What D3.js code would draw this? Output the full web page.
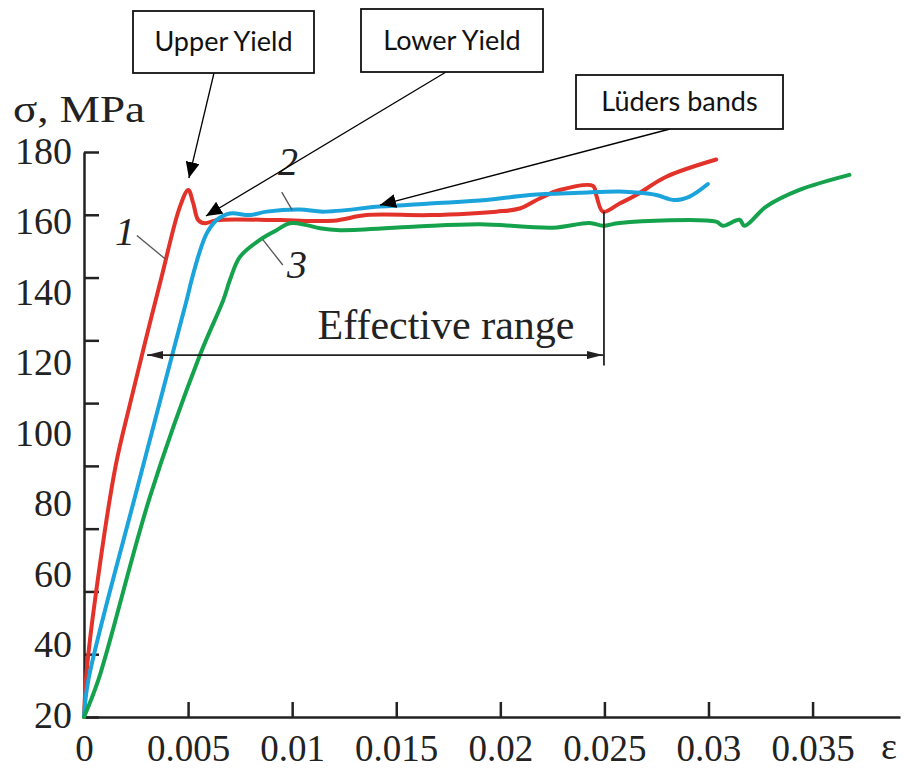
<!DOCTYPE html>
<html>
<head>
<meta charset="utf-8">
<script src="https://cdn.jsdelivr.net/npm/d3@7/dist/d3.min.js"></script>
<style>
	body{margin:0;background:#fff;}
	.serif{font-family:"Liberation Serif","Times New Roman",serif;fill:#222;}
	.box-text{font-family:Lato,"Open Sans",sans-serif;fill:#111;}
</style>
</head>
<body>
<div id="c-svg"></div>
<script>

//data : strain (epsilon) and stress (MPa)
const curveNames = ["1", "2", "3"];

const strain1 = [0, 0.00012, 0.00053, 0.00152, 0.00222, 0.00296, 0.00372, 0.00461, 0.00501, 0.00525, 0.00549, 0.00581, 0.00637, 0.00941, 0.01197, 0.01357, 0.01661, 0.01981, 0.02093, 0.02189, 0.02285, 0.02445, 0.02462, 0.02493, 0.02573, 0.02653, 0.02797, 0.03037];
const stress1 = [0, 14, 37.3, 80, 100, 120, 140, 162.6, 167.9, 163.6, 158.3, 157.3, 158.3, 158.3, 158.1, 159.9, 159.9, 161, 162, 165.2, 167.9, 169.2, 166, 161, 163.6, 166.3, 172.1, 177.6];

const strain2 = [0, 0.00021, 0.00260, 0.00493, 0.00517, 0.00550, 0.00589, 0.00637, 0.00701, 0.00797, 0.00877, 0.01037, 0.01149, 0.01421, 0.01661, 0.01933, 0.02141, 0.02381, 0.02573, 0.02669, 0.02749, 0.02837, 0.02909, 0.02997];
const stress2 = [0, 11.8, 74, 132.8, 139.2, 147, 154, 158.3, 160.4, 159.9, 161, 161.7, 161, 162.6, 163.6, 164.7, 166.3, 167, 167.4, 167, 166.3, 164.7, 165.8, 169.8];

const strain3 = [0, 0.00069, 0.00317, 0.00557, 0.00669, 0.00701, 0.00749, 0.00845, 0.00925, 0.00989, 0.01069, 0.01133, 0.01229, 0.01581, 0.01901, 0.02253, 0.02429, 0.02493, 0.02573, 0.03037, 0.03069, 0.03149, 0.03173, 0.03277, 0.03437, 0.03677];
const stress3 = [0, 11.8, 70.2, 115.3, 132.8, 139.2, 146.6, 152, 155.1, 157.3, 156.7, 155.7, 155.1, 156.2, 157, 155.9, 157.4, 156.5, 157.4, 157.8, 156.5, 158.4, 156.5, 162.6, 167.9, 172.7];

const colors = ["#e2322a", "#1ba3dc", "#15a24c"];

//axis ticks and labels
const xTicks = [0, 0.005, 0.01, 0.015, 0.02, 0.025, 0.03, 0.035];
const yTicks = [0, 20, 40, 60, 80, 100, 120, 140, 160, 180];
const yLabels = [20, 40, 60, 80, 100, 120, 140, 160, 180];

//annotations
const boxTexts = ["Upper Yield", "Lower Yield", "Lüders bands"];
const rangeStart = 0.00303, rangeEnd = 0.02493, rangeStress = 115.3;


//sizing
let width = 904;
let height = 769;

let svg = d3.select("#c-svg")
	.append("svg")
	.attr("width", width)
	.attr("height", height);

//scales
const xScale = d3.scaleLinear()
	.domain([0, 0.0392])
	.range([84, 900]);

const yScale = d3.scaleLinear()
	.domain([0, 180])
	.range([717, 152]);

//labels of the y axis are spaced on their own (as in the original figure)
const yLabelScale = d3.scaleLinear()
	.domain([20, 180])
	.range([715, 151]);

//markers
let defs = svg.append("defs");
defs.append("marker")
	.attr("id", "big-arrow")
	.attr("viewBox", "0 0 16 14")
	.attr("refX", 16).attr("refY", 7)
	.attr("markerWidth", 16).attr("markerHeight", 14)
	.attr("markerUnits", "userSpaceOnUse")
	.attr("orient", "auto")
	.append("path").attr("d", "M0,0 L16,7 L0,14 Z").attr("fill", "#000");

defs.append("marker")
	.attr("id", "small-arrow")
	.attr("viewBox", "0 0 16 8")
	.attr("refX", 16).attr("refY", 4)
	.attr("markerWidth", 16).attr("markerHeight", 8)
	.attr("markerUnits", "userSpaceOnUse")
	.attr("orient", "auto-start-reverse")
	.append("path").attr("d", "M0,0 L16,4 L0,8 Z").attr("fill", "#222");


//y axis : tick marks
const yAxis = d3.axisLeft(yScale)
	.tickValues(yTicks)
	.tickSize(-15)
	.tickSizeOuter(0)
	.tickFormat("");

svg.append("g")
	.attr("class", "axis y_axis")
	.attr("transform", `translate(${xScale(0)},0)`)
	.call(yAxis);

//y axis : labels
const yLabelAxis = d3.axisLeft(yLabelScale)
	.tickValues(yLabels)
	.tickSize(0)
	.tickPadding(12);

svg.append("g")
	.attr("class", "axis y_labels")
	.attr("transform", `translate(${xScale(0)},0)`)
	.call(yLabelAxis)
	.call(g => g.select(".domain").remove());

//x axis
const xAxis = d3.axisBottom(xScale)
	.tickValues(xTicks)
	.tickSize(-15)
	.tickSizeOuter(0)
	.tickPadding(18)
	.tickFormat(d => String(d));

svg.append("g")
	.attr("class", "axis x_axis")
	.attr("transform", `translate(0,${yScale(0)})`)
	.call(xAxis);

svg.selectAll(".axis .domain, .axis line")
	.attr("stroke", "#222")
	.attr("stroke-width", 2.5);

svg.selectAll(".axis text")
	.attr("class", "serif")
	.attr("fill", "#222")
	.style("font-size", "38px");

svg.selectAll(".x_axis text")
	.style("font-size", "37px");

//axis titles
svg.append("text")
	.attr("class", "serif")
	.attr("x", 13)
	.attr("y", 122)
	.attr("textLength", 132)
	.attr("lengthAdjust", "spacingAndGlyphs")
	.style("font-size", "38px")
	.text("σ, MPa");

svg.append("text")
	.attr("class", "serif")
	.attr("x", 889)
	.attr("y", 759)
	.style("font-size", "38px")
	.style("text-anchor", "middle")
	.text("ε");


//lines
let line = d3.line()
	.x(d => xScale(d[0]))
	.y(d => yScale(d[1]))
	.curve(d3.curveCatmullRom.alpha(0.5));

const series = [
	d3.zip(strain1, stress1),
	d3.zip(strain2, stress2),
	d3.zip(strain3, stress3)
];

svg.selectAll(".line")
	.data(series)
	.enter()
	.append("path")
	.attr("class", "line")
	.attr("d", line)
	.attr("fill", "none")
	.attr("stroke", (d, i) => colors[i])
	.attr("stroke-width", 4)
	.attr("stroke-linejoin", "round")
	.attr("stroke-linecap", "round");


//curve numbers with leader lines
const numberPos = [[0.00197, 150.4], [0.00980, 172.7], [0.01023, 139.9]];
const leaders = [
	[[0.00254, 153.4], [0.00389, 146]],
	[[0.00950, 167.2], [0.01000, 161.5]],
	[[0.00860, 152], [0.00955, 144]]
];

svg.selectAll(".leader")
	.data(leaders)
	.enter()
	.append("line")
	.attr("class", "leader")
	.attr("x1", d => xScale(d[0][0]))
	.attr("y1", d => yScale(d[0][1]))
	.attr("x2", d => xScale(d[1][0]))
	.attr("y2", d => yScale(d[1][1]))
	.attr("stroke", "#555")
	.attr("stroke-width", 1.3);

svg.selectAll(".curve-number")
	.data(curveNames)
	.enter()
	.append("text")
	.attr("class", "serif curve-number")
	.attr("x", (d, i) => xScale(numberPos[i][0]))
	.attr("y", (d, i) => yScale(numberPos[i][1]))
	.style("font-size", "40px")
	.style("font-style", "italic")
	.style("text-anchor", "middle")
	.text(d => d);


//effective range
svg.append("line")
	.attr("x1", xScale(rangeStart))
	.attr("x2", xScale(rangeEnd))
	.attr("y1", yScale(rangeStress))
	.attr("y2", yScale(rangeStress))
	.attr("stroke", "#222")
	.attr("stroke-width", 1.8)
	.attr("marker-start", "url(#small-arrow)")
	.attr("marker-end", "url(#small-arrow)");

svg.append("line")
	.attr("x1", xScale(rangeEnd) + 1)
	.attr("x2", xScale(rangeEnd) + 1)
	.attr("y1", yScale(161))
	.attr("y2", yScale(112))
	.attr("stroke", "#222")
	.attr("stroke-width", 1.8);

svg.append("text")
	.attr("class", "serif")
	.attr("x", xScale(0.01739))
	.attr("y", yScale(rangeStress) - 16)
	.style("font-size", "42px")
	.style("text-anchor", "middle")
	.text("Effective range");


//annotation boxes and arrows
const boxes = [
	{x: 133, y: 11, w: 181, h: 62, from: [214, 73], to: [0.00504, 171.7]},
	{x: 361, y: 9, w: 182, h: 63, from: [446, 72], to: [0.00586, 159.6]},
	{x: 576, y: 75, w: 207, h: 54, from: [670, 129], to: [0.01422, 163.1]}
];

let box = svg.selectAll(".box")
	.data(boxes)
	.enter()
	.append("g")
	.attr("class", "box");

box.append("line")
	.attr("x1", d => d.from[0])
	.attr("y1", d => d.from[1])
	.attr("x2", d => xScale(d.to[0]))
	.attr("y2", d => yScale(d.to[1]))
	.attr("stroke", "#000")
	.attr("stroke-width", 1.3)
	.attr("marker-end", "url(#big-arrow)");

box.append("rect")
	.attr("x", d => d.x)
	.attr("y", d => d.y)
	.attr("width", d => d.w)
	.attr("height", d => d.h)
	.attr("fill", "#fff")
	.attr("stroke", "#111")
	.attr("stroke-width", 1.8);

box.append("text")
	.attr("class", "box-text")
	.attr("x", d => d.x + d.w / 2)
	.attr("y", d => d.y + d.h / 2)
	.attr("dy", "0.35em")
	.style("font-size", "27px")
	.style("text-anchor", "middle")
	.text((d, i) => boxTexts[i]);

</script>
</body>
</html>
